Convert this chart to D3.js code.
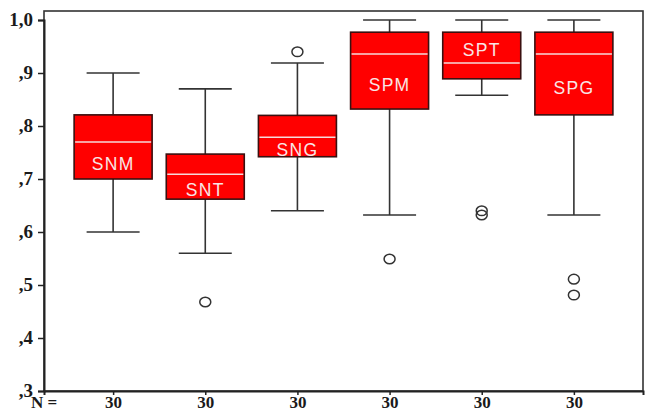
<!DOCTYPE html>
<html>
<head>
<meta charset="utf-8">
<script src="https://cdn.jsdelivr.net/npm/d3@7"></script>
<style>
  body { margin: 0; background: #fff; }
  svg text { font-family: "Liberation Serif", "Times New Roman", serif; font-weight: bold; }
</style>
</head>
<body>
<div id="viz"></div>
<script>
var groups = ["SNM", "SNT", "SNG", "SPM", "SPT", "SPG"];
var whiskerLow  = [0.60, 0.56, 0.64, 0.632, 0.858, 0.632];
var q1          = [0.70, 0.662, 0.742, 0.832, 0.889, 0.821];
var medians     = [0.770, 0.709, 0.779, 0.936, 0.919, 0.936];
var q3          = [0.821, 0.747, 0.820, 0.977, 0.977, 0.977];
var whiskerHigh = [0.90, 0.87, 0.919, 1.0, 1.0, 1.0];
var outliers    = [[], [0.468], [0.94], [0.549], [0.64, 0.632], [0.511, 0.481]];
var counts      = [30, 30, 30, 30, 30, 30];
var yTicks      = [0.3, 0.4, 0.5, 0.6, 0.7, 0.8, 0.9, 1.0];

var width = 647,
    height = 413;

var plotL = 44, plotR = 643, plotT = 11, plotB = 391;

var svg = d3.select("#viz").append("svg")
    .attr("width", width)
    .attr("height", height);

var x = d3.scalePoint()
    .domain(groups)
    .range([plotL, plotR])
    .padding(0.75);

var y = d3.scaleLinear()
    .domain([0.3, 1.0])
    .range([plotB, 20]);

var boxW = 78, capW = 53;

var data = groups.map(function(g, i) {
  return { name: g, lo: whiskerLow[i], q1: q1[i], med: medians[i],
           q3: q3[i], hi: whiskerHigh[i], out: outliers[i], n: counts[i] };
});

// frame
svg.append("rect")
    .attr("x", plotL).attr("y", plotT)
    .attr("width", plotR - plotL).attr("height", plotB - plotT)
    .attr("fill", "none").attr("stroke", "#333").attr("stroke-width", 1.6);

// y axis
var yAxis = d3.axisLeft(y)
    .tickValues(yTicks)
    .tickSize(6)
    .tickFormat(function(d) { return d3.format(".1f")(d).replace("0.", ",").replace(".", ","); });

var ya = svg.append("g")
    .attr("transform", "translate(" + plotL + ",0)")
    .call(yAxis);
ya.select(".domain").attr("stroke", "#222").attr("stroke-width", 2);
ya.selectAll(".tick line").attr("stroke", "#222").attr("stroke-width", 1.5);
ya.selectAll(".tick text")
    .attr("x", -11)
    .attr("dy", "0.3em")
    .attr("fill", "#1a1a1a")
    .style("font-size", "19px");

// x axis with N counts
var xAxis = d3.axisBottom(x)
    .tickSize(4)
    .tickFormat(function(d, i) { return counts[i]; });

var xa = svg.append("g")
    .attr("transform", "translate(0," + plotB + ")")
    .call(xAxis);
xa.select(".domain").attr("stroke", "#222").attr("stroke-width", 2);
xa.selectAll(".tick line").attr("stroke", "#222").attr("stroke-width", 1.5);
xa.selectAll(".tick text")
    .attr("y", 17)
    .attr("dy", 0)
    .attr("fill", "#1a1a1a")
    .style("font-size", "17px");

svg.append("text")
    .attr("x", 31).attr("y", 408)
    .attr("fill", "#1a1a1a")
    .style("font-size", "17px")
    .text("N =");

var box = svg.selectAll("g.box")
    .data(data)
  .enter().append("g")
    .attr("class", "box")
    .attr("transform", function(d) { return "translate(" + x(d.name) + ",0)"; });

// whiskers
box.append("line")
    .attr("y1", function(d) { return y(d.hi); })
    .attr("y2", function(d) { return y(d.q3); })
    .attr("stroke", "#333").attr("stroke-width", 1.6);
box.append("line")
    .attr("y1", function(d) { return y(d.q1); })
    .attr("y2", function(d) { return y(d.lo); })
    .attr("stroke", "#333").attr("stroke-width", 1.6);
box.append("line")
    .attr("x1", -capW / 2).attr("x2", capW / 2)
    .attr("y1", function(d) { return y(d.hi); })
    .attr("y2", function(d) { return y(d.hi); })
    .attr("stroke", "#333").attr("stroke-width", 1.6);
box.append("line")
    .attr("x1", -capW / 2).attr("x2", capW / 2)
    .attr("y1", function(d) { return y(d.lo); })
    .attr("y2", function(d) { return y(d.lo); })
    .attr("stroke", "#333").attr("stroke-width", 1.6);

// boxes
box.append("rect")
    .attr("x", -boxW / 2)
    .attr("width", boxW)
    .attr("y", function(d) { return y(d.q3); })
    .attr("height", function(d) { return y(d.q1) - y(d.q3); })
    .attr("fill", "#ff0000")
    .attr("stroke", "#3a1010").attr("stroke-width", 1.6);

// median
box.append("line")
    .attr("x1", -boxW / 2 + 1).attr("x2", boxW / 2 - 1)
    .attr("y1", function(d) { return y(d.med); })
    .attr("y2", function(d) { return y(d.med); })
    .attr("stroke", "#f6dada").attr("stroke-width", 1.5);

// labels go in the roomier half of the box
box.append("text")
    .attr("text-anchor", "middle")
    .attr("dy", "0.36em")
    .attr("y", function(d) {
      var up = y(d.med) - y(d.q3), dn = y(d.q1) - y(d.med);
      return up > dn * 1.5 ? (y(d.q3) + y(d.med)) / 2 + 2 : (y(d.med) + y(d.q1)) / 2 + 3;
    })
    .attr("fill", "#f8e6e6")
    .style("font-family", "'Liberation Sans', Arial, sans-serif")
    .style("font-weight", "normal")
    .style("letter-spacing", "1.3px")
    .style("font-size", "17.5px")
    .text(function(d) { return d.name; });

// outliers
box.selectAll("ellipse")
    .data(function(d) { return d.out; })
  .enter().append("ellipse")
    .attr("cx", 0)
    .attr("cy", function(v) { return y(v); })
    .attr("rx", 5.5).attr("ry", 4.8)
    .attr("fill", "none")
    .attr("stroke", "#333").attr("stroke-width", 1.5);
</script>
</body>
</html>
